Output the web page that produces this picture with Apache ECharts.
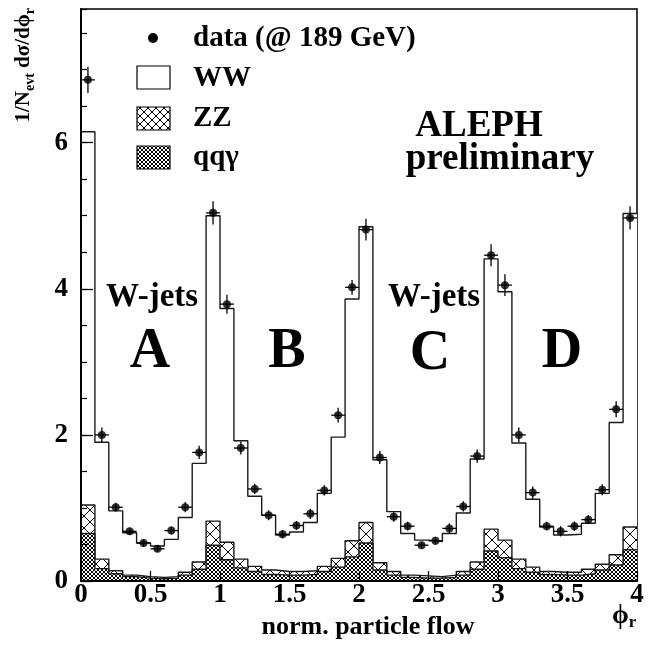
<!DOCTYPE html>
<html><head><meta charset="utf-8">
<script src="https://cdn.jsdelivr.net/npm/echarts@6/dist/echarts.min.js"></script>
<style>html,body{margin:0;padding:0;background:#fff}#c{width:655px;height:646px}</style>
</head><body><div id="c"></div>
<script>
// ---- data ----
const binLow = [0.0,0.1,0.2,0.3,0.4,0.5,0.6,0.7,0.8,0.9,
                1.0,1.1,1.2,1.3,1.4,1.5,1.6,1.7,1.8,1.9,
                2.0,2.1,2.2,2.3,2.4,2.5,2.6,2.7,2.8,2.9,
                3.0,3.1,3.2,3.3,3.4,3.5,3.6,3.7,3.8,3.9];
const binWidth = 0.1;
// top of stacked histograms: WW (total), ZZ (+qqγ), qqγ
const wwTotal = [6.15,1.90,0.96,0.66,0.52,0.48,0.57,0.87,1.61,5.00,
                 3.73,1.92,1.16,0.90,0.63,0.67,0.80,1.20,1.97,3.86,
                 4.85,1.66,0.95,0.65,0.56,0.54,0.65,0.93,1.67,4.41,
                 3.96,1.89,1.12,0.74,0.63,0.64,0.79,1.20,2.17,5.03];
const zzStack = [1.04,0.30,0.14,0.08,0.06,0.05,0.06,0.12,0.26,0.82,
                 0.53,0.30,0.20,0.15,0.13,0.13,0.14,0.20,0.31,0.55,
                 0.80,0.25,0.13,0.08,0.07,0.06,0.08,0.13,0.26,0.71,
                 0.56,0.30,0.19,0.13,0.12,0.12,0.16,0.23,0.36,0.74];
const qqgStack = [0.65,0.17,0.10,0.06,0.04,0.03,0.04,0.08,0.16,0.49,
                  0.29,0.18,0.13,0.09,0.08,0.08,0.09,0.13,0.19,0.33,
                  0.52,0.15,0.08,0.05,0.04,0.04,0.05,0.08,0.16,0.41,
                  0.32,0.17,0.12,0.09,0.08,0.08,0.10,0.15,0.22,0.43];
const dataVals = [6.86,2.00,1.01,0.68,0.52,0.44,0.69,1.01,1.76,5.04,
                  3.79,1.82,1.26,0.90,0.64,0.76,0.92,1.24,2.27,4.02,
                  4.81,1.69,0.88,0.75,0.49,0.55,0.72,1.02,1.71,4.46,
                  4.05,2.00,1.21,0.75,0.68,0.75,0.84,1.25,2.35,4.97];
const dataErr = [0.18,0.10,0.06,0.05,0.05,0.045,0.055,0.07,0.09,0.16,
                 0.13,0.09,0.07,0.07,0.055,0.06,0.07,0.07,0.10,0.10,
                 0.15,0.09,0.07,0.06,0.045,0.055,0.07,0.07,0.09,0.15,
                 0.15,0.10,0.085,0.06,0.07,0.065,0.06,0.075,0.11,0.16];
const xTicks = [0,0.5,1,1.5,2,2.5,3,3.5,4];
const yMax = 7.83;

// ---- helpers ----
const FONT = "'Liberation Serif','Times New Roman',serif";
function makePattern(size) {
  const c = document.createElement('canvas'); c.width = size; c.height = size;
  const ctx = c.getContext('2d');
  const img = ctx.createImageData(size, size);
  for (let y = 0; y < size; y++) for (let x = 0; x < size; x++) {
    const on = ((x - y) % size + size) % size === 0 || (x + y) % size === size - 1;
    const k = (y * size + x) * 4, v = on ? 0 : 255;
    img.data[k] = v; img.data[k+1] = v; img.data[k+2] = v; img.data[k+3] = 255;
  }
  ctx.putImageData(img, 0, 0);
  return { image: c, repeat: 'repeat' };
}
const zzPat = makePattern(12), zzPatLeg = makePattern(8), qqPat = makePattern(4);
function stepData(vals) {
  const d = binLow.map((x, i) => [x, vals[i]]);
  d.push([binLow[binLow.length - 1] + binWidth, vals[vals.length - 1]]);
  return d;
}
const centers = binLow.map(x => +(x + binWidth / 2).toFixed(3));

const chart = echarts.init(document.getElementById('c'), null, {renderer: 'canvas'});
const histLine = {color: '#1a1a1a', width: 1.4};
chart.setOption({
  animation: false,
  backgroundColor: '#fff',
  grid: {left: 81, right: 18, top: 9, bottom: 65, show: true, borderColor: '#000', borderWidth: 1.5,
         backgroundColor: 'transparent', containLabel: false, outerBoundsMode: 'none'},
  xAxis: {
    type: 'value', min: 0, max: 4, interval: 0.5, z: 10,
    axisLine: {show: true, lineStyle: {color: '#000', width: 2}},
    axisTick: {show: true, inside: true, length: 10, lineStyle: {color: '#000', width: 1.2}},
    axisLabel: {show: true, margin: 1, fontSize: 27, fontWeight: 'bold', fontFamily: FONT, color: '#000',
                formatter: v => xTicks.includes(v) ? String(v) : ''},
    splitLine: {show: false},
    name: 'norm. particle flow', nameLocation: 'middle', nameGap: 25,
    nameTextStyle: {fontSize: 26, fontWeight: 'bold', fontFamily: FONT, color: '#000', padding: [0, 0, 0, 18]}
  },
  yAxis: [{
    type: 'value', min: 0, max: yMax, interval: 0.5, z: 10,
    axisLine: {show: true, lineStyle: {color: '#000', width: 2}},
    axisTick: {show: true, inside: true, length: 6, lineStyle: {color: '#000', width: 1.2}},
    axisLabel: {show: false}, splitLine: {show: false}
  }, {
    type: 'value', min: 0, max: yMax, interval: 2, position: 'left', z: 10,
    axisLine: {show: false},
    axisTick: {show: true, inside: true, length: 12, lineStyle: {color: '#000', width: 1.2}},
    axisLabel: {show: true, margin: 13, showMaxLabel: false, fontSize: 27, fontWeight: 'bold', fontFamily: FONT, color: '#000'},
    splitLine: {show: false}
  }],
  series: [
    {name: 'WW', type: 'line', step: 'end', data: stepData(wwTotal), symbol: 'none', z: 1,
     lineStyle: histLine, areaStyle: {color: '#fff', opacity: 1}},
    {name: 'ZZ', type: 'line', step: 'end', data: stepData(zzStack), symbol: 'none', z: 2,
     lineStyle: histLine, areaStyle: {color: zzPat, opacity: 1}},
    {name: 'qqγ', type: 'line', step: 'end', data: stepData(qqgStack), symbol: 'none', z: 3,
     lineStyle: histLine, areaStyle: {color: qqPat, opacity: 1}},
    {name: 'errors', type: 'custom', z: 4,
     data: centers.map((x, i) => [x, dataVals[i], dataErr[i]]),
     renderItem: (params, api) => {
       const x = api.value(0), y = api.value(1), e = api.value(2);
       const pLo = api.coord([x, y - e]), pHi = api.coord([x, y + e]);
       const pL = api.coord([x - binWidth / 2, y]), pR = api.coord([x + binWidth / 2, y]);
       const st = {stroke: '#000', lineWidth: 1.3};
       return {type: 'group', children: [
         {type: 'line', shape: {x1: pLo[0], y1: pLo[1], x2: pHi[0], y2: pHi[1]}, style: st},
         {type: 'line', shape: {x1: pL[0], y1: pL[1], x2: pR[0], y2: pR[1]}, style: st}
       ]};
     }},
    {name: 'data (@ 189 GeV)', type: 'scatter', z: 5, symbol: 'circle', symbolSize: 8,
     itemStyle: {color: '#000'}, data: centers.map((x, i) => [x, dataVals[i]])}
  ],
  graphic: [
    // legend
    {type: 'circle', shape: {cx: 153, cy: 38, r: 5}, style: {fill: '#000'}, z: 20},
    {type: 'rect', shape: {x: 137, y: 66, width: 33, height: 23}, style: {fill: '#fff', stroke: '#000', lineWidth: 1.2}, z: 20},
    {type: 'rect', shape: {x: 137, y: 107, width: 33, height: 23}, style: {fill: zzPatLeg, stroke: '#000', lineWidth: 1.2}, z: 20},
    {type: 'rect', shape: {x: 137, y: 146, width: 33, height: 23}, style: {fill: qqPat, stroke: '#000', lineWidth: 1.2}, z: 20},
    {type: 'text', x: 193, y: 39, z: 20, style: {text: 'data (@ 189 GeV)', font: 'bold 29px ' + FONT, fill: '#000', verticalAlign: 'middle'}},
    {type: 'text', x: 193, y: 79, z: 20, style: {text: 'WW', font: 'bold 29px ' + FONT, fill: '#000', verticalAlign: 'middle'}},
    {type: 'text', x: 193, y: 119, z: 20, style: {text: 'ZZ', font: 'bold 29px ' + FONT, fill: '#000', verticalAlign: 'middle'}},
    {type: 'text', x: 193, y: 158, z: 20, style: {text: 'qqγ', font: 'bold 29px ' + FONT, fill: '#000', verticalAlign: 'middle'}},
    // annotations
    {type: 'text', x: 479, y: 126, z: 20, style: {text: 'ALEPH', font: 'bold 37px ' + FONT, fill: '#000', align: 'center', verticalAlign: 'middle'}},
    {type: 'text', x: 500, y: 159, z: 20, style: {text: 'preliminary', font: 'bold 37px ' + FONT, fill: '#000', align: 'center', verticalAlign: 'middle'}},
    {type: 'text', x: 152, y: 297, z: 20, style: {text: 'W-jets', font: 'bold 33px ' + FONT, fill: '#000', align: 'center', verticalAlign: 'middle'}},
    {type: 'text', x: 434, y: 297, z: 20, style: {text: 'W-jets', font: 'bold 33px ' + FONT, fill: '#000', align: 'center', verticalAlign: 'middle'}},
    {type: 'text', x: 150, y: 353, z: 20, style: {text: 'A', font: 'bold 56px ' + FONT, fill: '#000', align: 'center', verticalAlign: 'middle'}},
    {type: 'text', x: 287, y: 353, z: 20, style: {text: 'B', font: 'bold 56px ' + FONT, fill: '#000', align: 'center', verticalAlign: 'middle'}},
    {type: 'text', x: 430, y: 355, z: 20, style: {text: 'C', font: 'bold 56px ' + FONT, fill: '#000', align: 'center', verticalAlign: 'middle'}},
    {type: 'text', x: 562, y: 353, z: 20, style: {text: 'D', font: 'bold 56px ' + FONT, fill: '#000', align: 'center', verticalAlign: 'middle'}},
    // y axis title
    {type: 'text', x: 24, y: 8, rotation: Math.PI / 2, z: 20, style: {
      text: '{m|1/N}{s|evt}{m| dσ/dϕ}{s|r}', align: 'right', verticalAlign: 'middle', fill: '#000',
      rich: {m: {fontSize: 21, fontWeight: 'bold', fontFamily: FONT, lineHeight: 26, verticalAlign: 'middle'},
             s: {fontSize: 14, fontWeight: 'bold', fontFamily: FONT, lineHeight: 14, verticalAlign: 'bottom'}}}},
    // x axis variable
    {type: 'text', x: 612, y: 616, z: 20, style: {
      text: '{m|ϕ}{s|r}', align: 'left', verticalAlign: 'middle', fill: '#000',
      rich: {m: {fontSize: 27, fontWeight: 'bold', fontFamily: FONT, lineHeight: 30, verticalAlign: 'middle'},
             s: {fontSize: 17, fontWeight: 'bold', fontFamily: FONT, lineHeight: 17, verticalAlign: 'bottom'}}}}
  ]
});
</script></body></html>
